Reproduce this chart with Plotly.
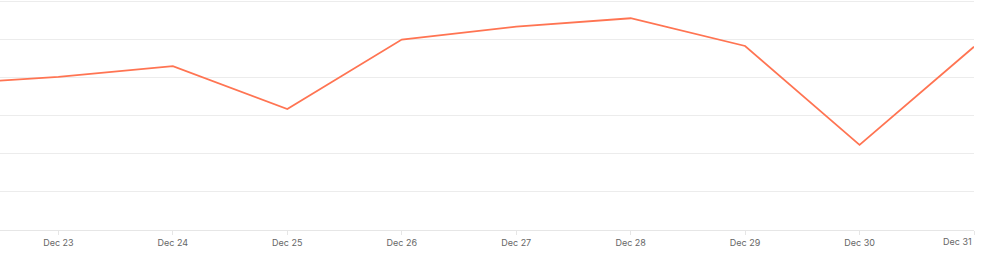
import plotly.graph_objects as go

dates = ["2023-12-22", "2023-12-23", "2023-12-24", "2023-12-25", "2023-12-26",
         "2023-12-27", "2023-12-28", "2023-12-29", "2023-12-30", "2023-12-31"]
values = [38.3, 40.3, 43.1, 31.8, 50.1, 53.5, 55.7, 48.4, 22.4, 48.2]

tick_vals = dates[1:]
tick_text = ["Dec 23", "Dec 24", "Dec 25", "Dec 26", "Dec 27", "Dec 28", "Dec 29", "Dec 30", ""]
last_label = "Dec 31"

fig = go.Figure()
fig.add_trace(go.Scatter(
    x=dates, y=values, mode="lines",
    line=dict(color="#FF7452", width=1.8),
    hoverinfo="skip", showlegend=False,
))

fig.update_layout(
    width=984, height=254,
    margin=dict(l=0, r=10, t=0, b=24),
    paper_bgcolor="white", plot_bgcolor="white",
    font=dict(family="Inter, Lato, sans-serif", size=9, color="#666666"),
    xaxis=dict(
        range=["2023-12-22 11:45", "2023-12-31 00:00"],
        tickmode="array", tickvals=tick_vals, ticktext=tick_text,
        showgrid=False, zeroline=False,
        showline=True, linecolor="#e6e6e6", linewidth=1,
        ticks="outside", ticklen=4, tickcolor="#e6e6e6", tickwidth=1,
        tickfont=dict(size=9, color="#666666"),
    ),
    yaxis=dict(
        range=[0, 60.5], tickvals=[10, 20, 30, 40, 50, 60], showticklabels=False,
        showgrid=True, gridcolor="#ececec", gridwidth=1,
        zeroline=False, showline=False, ticks="",
    ),
    annotations=[dict(
        x=dates[-1], y=0, xref="x", yref="paper", text=last_label,
        showarrow=False, xanchor="right", yanchor="top", yshift=-4,
        font=dict(size=9, color="#666666"),
    )],
)

fig.write_html("out.html")
